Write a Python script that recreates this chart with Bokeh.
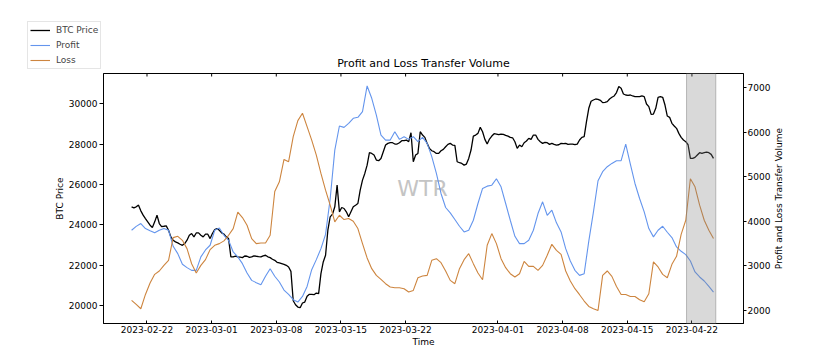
import math
import pandas as pd
from bokeh.plotting import figure
from bokeh.layouts import column, row
from bokeh.models import (LinearAxis, Range1d, FixedTicker,
                          DatetimeTickFormatter, BoxAnnotation, Label, Legend, LegendItem)
from bokeh.embed import file_html
from bokeh.resources import INLINE

# ---------------- data ----------------
start_time = "2023-02-20 08:00"

# BTC price, 6-hour samples
btc_price = [
    24894, 24844, 24894, 24976, 24695, 24480, 24313, 24150, 23982, 23869,
    24150, 24480, 24066, 23918, 23932, 23951, 23733, 23406, 23237, 23158,
    23109, 23042, 22990, 23075, 23240, 23488, 23570, 23406, 23600, 23604,
    23486, 23406, 23540, 23538, 23322, 23571, 23768, 23819, 23735, 23604,
    23540, 23406, 23322, 22414, 22414, 22450, 22414, 22400, 22380, 22460,
    22447, 22390, 22414, 22470, 22447, 22430, 22414, 22470, 22497, 22420,
    22380, 22300, 22246, 22150, 22117, 22083, 22049, 21999, 21917, 21700,
    20248, 20050, 19934, 19900, 20133, 20182, 20463, 20562, 20562, 20545,
    20628, 20595, 21587, 22165, 22500, 23735, 24398, 24529, 24894, 25965,
    24646, 24859, 24810, 24645, 24398, 24645, 24894, 24973, 25057, 25717,
    26213, 26545, 26956, 27571, 27536, 27454, 27205, 27174, 27288, 27620,
    27948, 28032, 28066, 28065, 28000, 27999, 28066, 28165, 28165, 28198,
    28115, 28561, 27124, 27454, 27536, 28610, 28443, 28330, 28033, 27784,
    27668, 27620, 27536, 27536, 27668, 27735, 27866, 27982, 28032, 27949,
    27932, 27124, 27075, 27041, 26956, 27008, 27288, 27703, 28394, 28445,
    28527, 28826, 28610, 28230, 27998, 28247, 28394, 28510, 28494, 28460,
    28494, 28477, 28428, 28390, 28329, 28310, 28115, 27784, 27948, 27866,
    28066, 28148, 28280, 28230, 28444, 28445, 28230, 28115, 28032, 28082,
    28066, 27982, 28032, 27982, 27948, 27965, 28032, 28015, 28032, 27982,
    28000, 27999, 27965, 27999, 28198, 28330, 28362, 29108, 29767, 30115,
    30180, 30229, 30213, 30164, 30048, 30065, 30098, 30229, 30313, 30378,
    30545, 30843, 30759, 30477, 30427, 30411, 30427, 30378, 30346, 30345,
    30346, 30378, 30346, 29980, 29851, 29470, 29484, 29765, 30313, 30345,
    30313, 29930, 29385, 29321, 29024, 28890, 28776, 28528, 28329, 28198,
    28115, 27965, 27288, 27288, 27338, 27454, 27569, 27536, 27569, 27602,
    27569, 27488, 27288,
]

# transfer volumes, 12-hour samples
profit = [
    3793, 3880, 3944, 3831, 3780, 3735, 3793, 3831, 3793, 3433,
    3268, 3028, 2953, 2892, 2892, 3194, 3350, 3456, 3793, 3845,
    3680, 3567, 3305, 3194, 3043, 2832, 2667, 2616, 2570, 2758,
    2930, 2760, 2631, 2450, 2351, 2232, 2180, 2306, 2531, 2907,
    3133, 3380, 3700, 4500, 5594, 6135, 6105, 6195, 6308, 6331,
    6459, 7035, 6758, 6382, 5932, 5819, 5819, 6008, 5835, 5896,
    5835, 5896, 5783, 5880, 5745, 5446, 5069, 4619, 4304, 4184,
    4034, 3883, 3756, 3793, 4018, 4394, 4732, 4784, 4806, 4950,
    4770, 4394, 4018, 3657, 3493, 3493, 3567, 3793, 4169, 4432,
    4130, 4243, 3959, 3756, 3380, 3103, 2892, 2779, 2817, 3550,
    4200, 4905, 5108, 5220, 5295, 5356, 5356, 5729, 5279, 4844,
    4506, 4207, 3831, 3644, 3793, 3883, 3748, 3628, 3419, 3320,
    3245, 3103, 2856, 2743, 2653, 2531, 2405,
]

loss = [
    2216, 2126, 2029, 2351, 2608, 2802, 2878, 3004, 3117, 3628,
    3657, 3567, 3380, 3040, 2833, 3004, 3133, 3358, 3455, 3493,
    3554, 3680, 3831, 4200, 4079, 3905, 3606, 3493, 3506, 3506,
    3680, 4664, 4882, 5385, 5333, 5896, 6256, 6421, 6121, 5819,
    5481, 5069, 4693, 4356, 3982, 4130, 4034, 4056, 3995, 3831,
    3493, 3171, 2930, 2779, 2689, 2592, 2518, 2502, 2502, 2480,
    2405, 2441, 2727, 2766, 2779, 3117, 3155, 3065, 2878, 2667,
    2592, 2930, 3133, 3268, 3043, 2833, 2682, 3455, 3718, 3493,
    3155, 2953, 2817, 2743, 2817, 3094, 2982, 2982, 2892, 3004,
    3230, 3477, 3342, 3252, 2878, 2653, 2480, 2345, 2203, 2081,
    2029, 1991, 2779, 2878, 2757, 2531, 2351, 2351, 2306, 2306,
    2232, 2187, 2367, 3081, 2968, 2802, 2727, 3027, 3207, 3700,
    4018, 4950, 4770, 4356, 4018, 3793, 3606,
]

series_names = ["BTC Price", "Profit", "Loss"]
series_colors = ["black", "cornflowerblue", "peru"]
series_widths = [1.3, 1.1, 1.1]
title_text = "Profit and Loss Transfer Volume"
left_label = "BTC Price"
right_label = "Profit and Loss Transfer Volume"
x_label = "Time"
x_tick_labels = ["2023-02-22", "2023-03-01", "2023-03-08", "2023-03-15", "2023-03-22",
                 "2023-04-01", "2023-04-08", "2023-04-15", "2023-04-22"]
left_ticks = [20000, 22000, 24000, 26000, 28000, 30000]
right_ticks = [2000, 3000, 4000, 5000, 6000, 7000]
shade_window = ["2023-04-21 10:00", "2023-04-24 14:00"]
x_window = ["2023-02-17 07:00", "2023-04-27 14:00"]
left_window = [19120, 31490]
right_window = [1698, 7315]

times_6h = pd.date_range(start_time, periods=len(btc_price), freq="6h")
times_12h = pd.date_range(start_time, periods=len(profit), freq="12h")
tick_times = [pd.Timestamp(d) for d in x_tick_labels]

FONT = "DejaVu Sans"
FRAME_W = 640
FRAME_H = 250
TOP_H = 73
LEFT_B = 103
MAIN_W = 772


def bare(fig):
    if "frame_align" in fig.properties():
        fig.frame_align = False
    fig.xgrid.visible = False
    fig.ygrid.visible = False
    fig.outline_line_color = None
    fig.background_fill_color = "white"
    fig.border_fill_color = "white"


# ---------------- header strip: legend + title ----------------
head = figure(width=815, height=TOP_H, x_range=Range1d(0, 815), y_range=Range1d(0, TOP_H),
              output_backend="svg", toolbar_location=None,
              x_axis_location=None, y_axis_location=None, title=None,
              min_border=0, min_border_left=0, min_border_right=0,
              min_border_top=0, min_border_bottom=0)
bare(head)

# key renderers: the series themselves, far outside this strip's visible range
key_renderers = [head.line(t, s, line_color=c, line_width=w)
                 for t, s, c, w in zip([times_6h, times_12h, times_12h],
                                       [btc_price, profit, loss], series_colors, series_widths)]
legend = Legend(items=[LegendItem(label=n, renderers=[r]) for n, r in zip(series_names, key_renderers)],
                location=(27, 4), orientation="vertical",
                label_text_font=FONT, label_text_font_size="9px",
                glyph_width=20, glyph_height=12, label_height=12,
                label_standoff=6, spacing=3, padding=2, margin=0,
                border_line_color="#cccccc", background_fill_color="white",
                background_fill_alpha=1.0)
head.add_layout(legend)

head.add_layout(Label(x=LEFT_B + FRAME_W / 2, y=10, x_units="screen", y_units="screen",
                      text=title_text, text_font=FONT,
                      text_font_size="11px", text_color="black",
                      text_align="center", text_baseline="middle"))

# ---------------- main plot ----------------
p = figure(width=MAIN_W, height=350 - TOP_H, frame_width=FRAME_W, frame_height=FRAME_H,
           x_axis_type="datetime", title=None,
           output_backend="svg", toolbar_location=None,
           x_range=Range1d(pd.Timestamp(x_window[0]), pd.Timestamp(x_window[1])),
           y_range=Range1d(*left_window),
           min_border_left=LEFT_B, min_border_right=MAIN_W - LEFT_B - FRAME_W,
           min_border_top=0, min_border_bottom=27)
bare(p)
p.outline_line_color = "black"
p.outline_line_width = 1
p.extra_y_ranges = {"vol": Range1d(*right_window)}

p.line(times_6h, btc_price, line_color=series_colors[0], line_width=series_widths[0])
p.line(times_12h, profit, line_color=series_colors[1], line_width=series_widths[1],
       y_range_name="vol")
p.line(times_12h, loss, line_color=series_colors[2], line_width=series_widths[2],
       y_range_name="vol")

# inward tick marks along the top edge (3 px long)
top_y = left_window[1]
tick_len = 3 * (left_window[1] - left_window[0]) / FRAME_H
p.segment(x0=tick_times, x1=tick_times, y0=[top_y] * len(tick_times),
          y1=[top_y - tick_len] * len(tick_times), line_color="black", line_width=1)

# shaded window
p.add_layout(BoxAnnotation(left=pd.Timestamp(shade_window[0]), right=pd.Timestamp(shade_window[1]),
                           fill_color="gray", fill_alpha=0.3,
                           line_color="gray", line_alpha=0.5, line_width=1, level="overlay"))

# watermark
p.add_layout(Label(x=319, y=135, x_units="screen", y_units="screen", text="WTR",
                   text_font=FONT, text_font_size="22px", text_color="#c4c4c4",
                   text_align="center", text_baseline="middle", level="underlay"))

fmt = DatetimeTickFormatter(hours="%Y-%m-%d", days="%Y-%m-%d", months="%Y-%m-%d",
                            years="%Y-%m-%d")
tick_ms = [t.value / 1e6 for t in tick_times]

xa = p.xaxis[0]
xa.ticker = FixedTicker(ticks=tick_ms)
xa.formatter = fmt
xa.major_tick_in = 3
xa.major_tick_out = 0
xa.minor_tick_line_color = None
xa.major_label_standoff = 2
xa.axis_label = x_label
xa.axis_label_standoff = 1

ya = p.yaxis[0]
ya.ticker = FixedTicker(ticks=left_ticks)
ya.major_tick_out = 4
ya.major_tick_in = 0
ya.minor_tick_line_color = None
ya.major_label_standoff = 2
ya.axis_label = left_label
ya.axis_label_standoff = 1

ra = LinearAxis(y_range_name="vol", ticker=FixedTicker(ticks=right_ticks))
ra.major_tick_out = 3
ra.major_tick_in = 0
ra.minor_tick_line_color = None
ra.major_label_standoff = 1
p.add_layout(ra, "right")

for ax in [xa, ya, ra]:
    ax.axis_line_color = "black"
    ax.major_tick_line_color = "black"
    ax.major_label_text_font = FONT
    ax.major_label_text_color = "black"
    ax.major_label_text_font_size = "9px"
    ax.axis_label_text_font = FONT
    ax.axis_label_text_font_size = "9px"
    ax.axis_label_text_font_style = "normal"
    ax.axis_label_text_color = "black"

# ---------------- right strip: rotated right-axis title ----------------
strip = figure(width=815 - MAIN_W, height=350 - TOP_H,
               x_range=Range1d(0, 815 - MAIN_W), y_range=Range1d(0, 350 - TOP_H),
               output_backend="svg", toolbar_location=None,
               x_axis_location=None, y_axis_location=None, title=None,
               min_border=0, min_border_left=0, min_border_right=0,
               min_border_top=0, min_border_bottom=0)
bare(strip)
strip.add_layout(Label(x=5, y=350 - TOP_H - (FRAME_H / 2), x_units="screen", y_units="screen",
                       text=right_label, angle=math.pi / 2, text_font=FONT,
                       text_font_size="9px", text_color="black",
                       text_align="center", text_baseline="middle"))

layout = column(head, row(p, strip, spacing=0), spacing=0)
open("out.html", "w").write(file_html(layout, INLINE))
